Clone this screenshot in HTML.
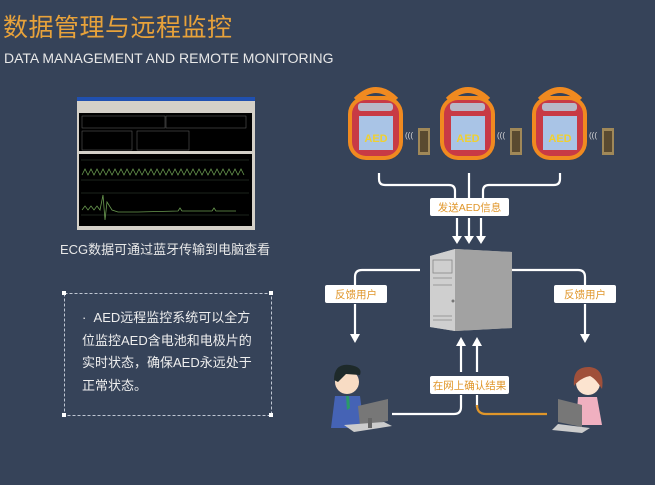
<!DOCTYPE html>
<html><head><meta charset="utf-8"><style>
body{margin:0;width:655px;height:485px;background:#364359;overflow:hidden;position:relative;font-family:"Liberation Sans","Noto Sans CJK SC",sans-serif}
.a{position:absolute;white-space:nowrap}
</style></head><body>
<div class="a" style="left:3px;top:8px;font-size:25px;color:#e8a23a;letter-spacing:0.5px">数据管理与远程监控</div>
<div class="a" style="left:4px;top:50px;font-size:14px;color:#e8e8e8">DATA MANAGEMENT AND REMOTE MONITORING</div>
<div class="a" style="left:60px;top:239px;font-size:13px;color:#e8e8e8">ECG数据可通过蓝牙传输到电脑查看</div>
<div class="a" style="left:82px;top:307px;font-size:13px;line-height:22.5px;color:#eee">·&nbsp;&nbsp;AED远程监控系统可以全方<br>位监控AED含电池和电极片的<br>实时状态，确保AED永远处于<br>正常状态。</div>
<svg class="a" style="left:0;top:0" width="655" height="485" viewBox="0 0 655 485" font-family="Liberation Sans,Noto Sans CJK SC,sans-serif">
<rect x="64.5" y="293.5" width="207" height="122" fill="none" stroke="#bfc6d2" stroke-dasharray="3,2"/>
<g fill="#fff"><rect x="62" y="291" width="4" height="4"/><rect x="269" y="291" width="4" height="4"/><rect x="62" y="413" width="4" height="4"/><rect x="269" y="413" width="4" height="4"/></g>
<rect x="77" y="97" width="178" height="133" fill="#d4d0c8"/>
<rect x="77" y="97" width="178" height="4" fill="#2050b0"/>
<rect x="79" y="113" width="173" height="38" fill="#000"/>
<rect x="79" y="154" width="173" height="72" fill="#000"/>
<g fill="none" stroke="#666" stroke-width="0.5"><rect x="82" y="116" width="83" height="12"/><rect x="166" y="116" width="80" height="12"/><rect x="82" y="131" width="50" height="19"/><rect x="137" y="131" width="52" height="19"/></g>
<g stroke="#3a4a3a" stroke-width="0.5"><path d="M81 160h168M81 180h168M81 193h168M81 215h168"/></g>
<path d="M82 175 l3-6 3 6 3-6 3 6 3-6 3 6 3-6 3 6 3-6 3 6 3-6 3 6 3-6 3 6 3-6 3 6 3-6 3 6 3-6 3 6 3-6 3 6 3-6 3 6 3-6 3 6 3-6 3 6 3-6 3 6 3-6 3 6 3-6 3 6 3-6 3 6 3-6 3 6 3-6 3 6 3-6 3 6 3-6 3 6 3-6 3 6 3-6 3 6 3-6 3 6 3-6 3 6 3-6 3 6" fill="none" stroke="#6a9a50" stroke-width="0.8"/>
<path d="M82 210 l3-4 3 4 3-4 3 4 3-4 3 4 3-15 2 25 2-18 5 8 6 2 20 0 40 -1 l2-3 2 3 30 0 l2-3 2 3 20 0" fill="none" stroke="#6a9a50" stroke-width="0.8"/>
<g id="aed">
<path d="M356 100 q20-20 40 0" fill="none" stroke="#f08a20" stroke-width="6"/>
<rect x="348" y="96" width="55" height="64" rx="18" fill="#f08a20"/>
<rect x="352" y="100" width="47" height="56" rx="14" fill="#c83a45"/>
<rect x="358" y="103" width="35" height="8" rx="3" fill="#b8b8c8"/>
<rect x="359" y="116" width="34" height="34" fill="#a9c4e6"/>
<text x="376" y="142" font-size="11" fill="#f0d030" text-anchor="middle" font-weight="bold">AED</text>
<text x="405" y="138" font-size="8" fill="#ddd">(((</text>
<rect x="418" y="128" width="12" height="27" fill="#a08858"/>
<rect x="420" y="131" width="8" height="21" fill="#5a4a30"/>
</g>
<use href="#aed" x="92"/>
<use href="#aed" x="184"/>
<g fill="none" stroke="#fff" stroke-width="2.2">
<path d="M379 173v6q0 6 6 6h64q6 0 6 6v8"/>
<path d="M469 173v25"/>
<path d="M560 173v6q0 6-6 6h-65q-6 0-6 6v8"/>
<path d="M457 218v20M469 218v20M481 218v20"/>
<path d="M420 270h-58q-7 0-7 7v8M355 304v32"/>
<path d="M512 270h66q7 0 7 7v8M585 304v32"/>
<path d="M461 372v-28M477 372v-28"/>
<path d="M461 395v12q0 7-7 7h-62"/>
<path d="M477 395v12"/>
</g>
<path d="M477 405q0 9 9 9h61" fill="none" stroke="#e0962a" stroke-width="2.2"/>
<g fill="#fff">
<path d="M452 236h10l-5 8zM464 236h10l-5 8zM476 236h10l-5 8z"/>
<path d="M350 334h10l-5 9zM580 334h10l-5 9z"/>
<path d="M456 346h10l-5-9zM472 346h10l-5-9z"/>
</g>
<g font-size="10.5" fill="#e0962a" text-anchor="middle">
<rect x="430" y="198" width="79" height="18" rx="2" fill="#fff"/><text x="469.5" y="211">发送AED信息</text>
<rect x="325" y="285" width="62" height="18" rx="2" fill="#fff"/><text x="356" y="298">反馈用户</text>
<rect x="554" y="285" width="62" height="18" rx="2" fill="#fff"/><text x="585" y="298">反馈用户</text>
<rect x="430" y="376" width="79" height="18" rx="2" fill="#fff"/><text x="469.5" y="389">在网上确认结果</text>
</g>
<path d="M430 256l25-7 57 3v76l-57 3-25-4z" fill="#b9b9b9"/>
<path d="M455 249l57 3v76l-57 3z" fill="#a2a2a2"/>
<path d="M430 256l25-7v82l-25-4z" fill="#cfcfcf"/>
<g fill="none" stroke="#888" stroke-width="0.8"><rect x="433" y="260" width="19" height="13"/><path d="M433 278h19M433 285h19M433 316h19M433 320h19"/></g>
<circle cx="453" cy="301" r="1.5" fill="#777"/>
<circle cx="347" cy="382" r="12" fill="#f8dcc4"/>
<path d="M334 380q0-17 16-15q13 2 10 10l-14-1-8 8z" fill="#1e2a2a"/>
<path d="M335 396h25l4 32h-33z" fill="#4563b5"/>
<path d="M346 396l3 0 1 12-3 2z" fill="#2a9a6a"/>
<path d="M358 406l30-7v22l-28 5z" fill="#777"/>
<path d="M344 425l40-3 8 4-38 6z" fill="#ccc"/>
<rect x="368" y="418" width="4" height="10" fill="#666"/>
<circle cx="588" cy="383" r="12" fill="#fce4d0"/>
<path d="M574 386q-2-20 16-19q15 2 12 22q-6-10-12-13q-10 2-16 10z" fill="#a0503a"/>
<path d="M578 397h19l5 28h-26z" fill="#f0b0c0"/>
<path d="M558 399l24 6v22l-24-5z" fill="#777"/>
<path d="M558 424l32 4-8 5-30-3z" fill="#ccc"/>
</svg>
</body></html>
